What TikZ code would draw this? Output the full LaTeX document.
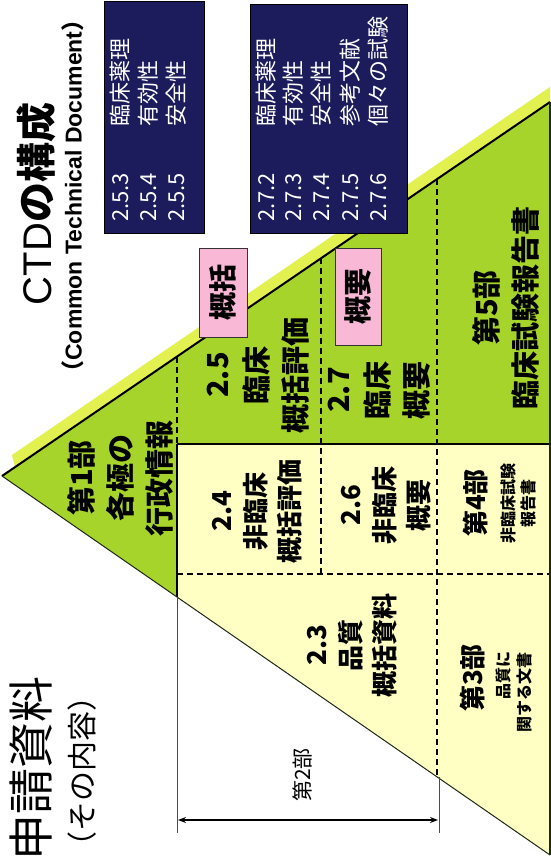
\documentclass[tikz,border=0pt]{standalone}
\usepackage{fontspec}
\newfontfamily\jp{Noto Sans CJK JP}
\newfontfamily\lat{Liberation Sans}
\usetikzlibrary{arrows.meta}
\definecolor{grn}{RGB}{166,212,42}
\definecolor{bandc}{RGB}{226,240,80}
\definecolor{ylw}{RGB}{255,255,196}
\definecolor{navy}{RGB}{28,28,92}
\definecolor{pnk}{RGB}{248,184,214}
\definecolor{edgec}{RGB}{30,40,20}
\begin{document}
\begin{tikzpicture}[x=1pt,y=-1pt,
  dashline/.style={line width=1.4pt, dash pattern=on 6pt off 4pt},
  solidline/.style={line width=1.8pt},
  bigjp/.style={rotate=90, align=center, inner sep=0pt, font={\jp\bfseries\fontsize{29}{39}\selectfont}},
  midjp/.style={rotate=90, align=center, inner sep=0pt, font={\jp\bfseries\fontsize{26}{34}\selectfont}},
  smalljp/.style={rotate=90, align=center, inner sep=0pt, font={\jp\bfseries\fontsize{16}{20}\selectfont}},
  boxtxt/.style={rotate=90, anchor=west, inner sep=0pt, text=white, text height=16pt, text depth=4pt, font={\jp\fontsize{22}{22}\selectfont}},
  bluebox/.style={draw=black, line width=0.8pt, fill=navy, inner sep=0pt},
  pinkbox/.style={draw=black!80, line width=0.8pt, fill=pnk, rotate=90, inner sep=0pt, font={\jp\bfseries\fontsize{28}{28}\selectfont}}
]
\useasboundingbox (0,0) rectangle (551,862);
% key points
\coordinate (apex) at (2,476);
\coordinate (tr) at (550,102);
\coordinate (br) at (550,855);
\coordinate (b1) at (12,455);
\coordinate (b2) at (550,87);
\coordinate (b4) at (15,467);
\coordinate (c1t) at (177,357);
\coordinate (c1m) at (177,444);
\coordinate (c1b) at (177,597);
\coordinate (c2t) at (321,258);
\coordinate (c2b) at (321,574);
\coordinate (c3t) at (437,179);
\coordinate (c3b) at (437,777);
\coordinate (rm) at (550,444);
\coordinate (h2l) at (177,574);
\coordinate (h2r) at (550,574);
\coordinate (d1) at (177,833);
\coordinate (d2t) at (439,777);
\coordinate (d2) at (439,833);
\coordinate (a1) at (178,820);
\coordinate (a2) at (438,820);
% fills
\fill[bandc] (b1) -- (b2) -- (tr) -- (b4) -- cycle;
\fill[grn] (apex) -- (tr) -- (rm) -- (c1m) -- (c1b) -- cycle;
\fill[ylw] (c1m) -- (rm) -- (br) -- (c1b) -- cycle;
% lines
\draw[dashline] (c1t) -- (c1m);
\draw[dashline] (c2t) -- (c2b);
\draw[dashline] (c3t) -- (c3b);
\draw[dashline] (h2l) -- (h2r);
\draw[solidline] (c1m) -- (c1b);
\draw[solidline] (c1m) -- (rm);
\draw[line width=2pt] (apex) -- (tr);
\draw[line width=1pt, edgec] (apex) -- (br);
\draw[line width=1.5pt, edgec] (tr) -- (br);
\draw[line width=0.8pt, black!70] (c1b) -- (d1);
\draw[line width=0.8pt, black!70] (d2t) -- (d2);
\draw[line width=1.3pt, {Stealth[length=8pt,width=6pt]}-{Stealth[length=8pt,width=6pt]}] (a1) -- (a2);
% pyramid labels
\node[bigjp] (m1) at (120,478) {第1部\\各極の\\行政情報};
\node[bigjp] (m25) at (258,375) {2.5\\臨床\\概括評価};
\node[bigjp] (m27) at (379,390) {2.7\\臨床\\概要};
\node[bigjp] (m5) at (506,308) {第5部\\臨床試験報告書};
\node[midjp] (m24) at (257,511) {2.4\\非臨床\\概括評価};
\node[midjp] (m26) at (386,505) {2.6\\非臨床\\概要};
\node[midjp] (m4) at (475,503) {第4部};
\node[smalljp] (m4s) at (518,503) {非臨床試験\\報告書};
\node[midjp] (m23) at (352,645) {2.3\\品質\\概括資料};
\node[midjp] (m3) at (472,678) {第3部};
\node[smalljp] (m3a) at (503,675) {品質に};
\node[smalljp] (m3b) at (524,692) {関する文書};
\node[rotate=90, inner sep=0pt, font={\jp\fontsize{21}{21}\selectfont}] (m2) at (302,775) {第2部};
% pink boxes
\node[pinkbox, minimum width=89pt, minimum height=48pt] (pk1) at (223,292.5) {概括};
\node[pinkbox, minimum width=97pt, minimum height=46pt] (pk2) at (358,296.5) {概要};
% blue boxes
\node[bluebox, minimum width=100pt, minimum height=232pt] (bx1) at (154,117) {};
\node[bluebox, minimum width=157pt, minimum height=229pt] (bx2) at (328.5,118.5) {};
\node[boxtxt] (n253) at (122,222) {2.5.3};
\node[boxtxt] (n254) at (150,222) {2.5.4};
\node[boxtxt] (n255) at (178,222) {2.5.5};
\node[boxtxt] (t253) at (122,127) {臨床薬理};
\node[boxtxt] (t254) at (150,127) {有効性};
\node[boxtxt] (t255) at (178,127) {安全性};
\node[boxtxt] (n272) at (268,222) {2.7.2};
\node[boxtxt] (n273) at (295,222) {2.7.3};
\node[boxtxt] (n274) at (323,222) {2.7.4};
\node[boxtxt] (n275) at (352,222) {2.7.5};
\node[boxtxt] (n276) at (380,222) {2.7.6};
\node[boxtxt] (t272) at (268,127) {臨床薬理};
\node[boxtxt] (t273) at (295,127) {有効性};
\node[boxtxt] (t274) at (323,127) {安全性};
\node[boxtxt] (t275) at (352,127) {参考文献};
\node[boxtxt] (t276) at (380,127) {個々の試験};
% titles
\node[rotate=90, inner sep=0pt] (title) at (36,204) {\lat\fontsize{40}{40}\selectfont CTD\jp\bfseries の構成};
\node[rotate=90, inner sep=0pt] (subtitle) at (73,196) {\jp\bfseries\fontsize{23}{23}\selectfont （\lat\bfseries Common Technical Document\jp ）};
\node[rotate=90, inner sep=0pt, font={\jp\fontsize{46}{46}\selectfont}] (app) at (31,768) {申請資料};
\node[rotate=90, inner sep=0pt, font={\jp\fontsize{30}{30}\selectfont}] (appsub) at (82,771) {（その内容）};
\end{tikzpicture}
\end{document}
